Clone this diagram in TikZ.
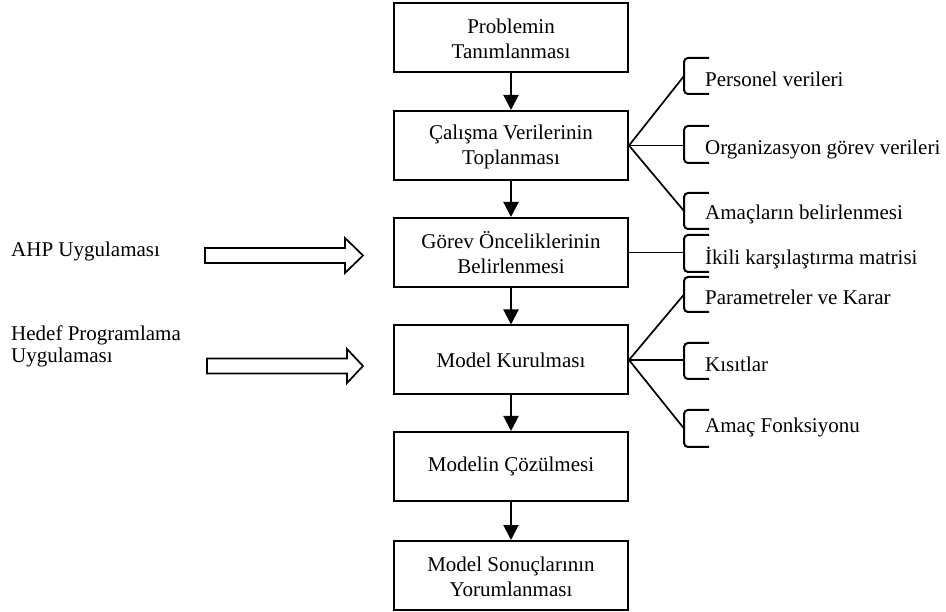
\documentclass[tikz,border=0pt]{standalone}
\usepackage{fontspec}
\setmainfont{Liberation Serif}
\usetikzlibrary{arrows.meta}

\tikzset{
	box/.style={rectangle, draw, line width=2pt, minimum width=234pt, minimum height=69pt, inner sep=0pt, align=center, font=\fontsize{21}{24.5}\selectfont},
	item/.style={anchor=base west, inner sep=0pt, font=\fontsize{21}{24}\selectfont},
	side/.style={anchor=base west, inner sep=0pt, align=left, font=\fontsize{21}{22}\selectfont},
	flow/.style={-{Triangle[length=15pt,width=15pt]}, line width=2pt},
	fan/.style={line width=1.7pt},
	brk/.style={line width=2pt, rounded corners=4pt},
	fatarrow/.style={line width=1.7pt, line join=miter},
}

\begin{document}
\begin{tikzpicture}[x=1pt,y=-1pt]

	\useasboundingbox	(0,0)	rectangle	(946,612);

	% main steps
	\node 	(e1)		at	(511,37.5) 	[box]{\strut Problemin\\Tanımlanması};
	\node 	(e2)		at	(511,145.5) 	[box]{\strut Çalışma Verilerinin\\Toplanması};
	\node 	(e3)		at	(511,252.5) 	[box]{\strut Görev Önceliklerinin\\Belirlenmesi};
	\node 	(e4)		at	(511,360) 	[box]{Model Kurulması};
	\node 	(e5)		at	(511,466.5) 	[box]{Modelin Çözülmesi};
	\node 	(e6)		at	(511,575.5) 	[box]{\strut Model Sonuçlarının\\Yorumlanması};

	\draw[flow]	(e1)	to	(e2);
	\draw[flow]	(e2)	to	(e3);
	\draw[flow]	(e3)	to	(e4);
	\draw[flow]	(e4)	to	(e5);
	\draw[flow]	(e5)	to	(e6);

	% brackets on the right
	\coordinate	(b1)	at	(684,76);
	\coordinate	(b2)	at	(684,145.5);
	\coordinate	(b3)	at	(684,211);
	\coordinate	(b4)	at	(684,252.5);
	\coordinate	(b5)	at	(684,294.5);
	\coordinate	(b6)	at	(684,360);
	\coordinate	(b7)	at	(684,428.5);

	\draw[brk]	(709,58)	--	(684,58)	--	(684,94)	--	(709,94);
	\draw[brk]	(709,126)	--	(684,126)	--	(684,163)	--	(709,163);
	\draw[brk]	(709,193)	--	(684,193)	--	(684,229)	--	(709,229);
	\draw[brk]	(709,235)	--	(684,235)	--	(684,272)	--	(709,272);
	\draw[brk]	(709,277)	--	(684,277)	--	(684,312)	--	(709,312);
	\draw[brk]	(709,343)	--	(684,343)	--	(684,379)	--	(709,379);
	\draw[brk]	(709,410)	--	(684,410)	--	(684,447)	--	(709,447);

	\node 	(p1)		at	(705,87) 	[item]{Personel verileri};
	\node 	(p2)		at	(705,155) 	[item]{Organizasyon görev verileri};
	\node 	(p3)		at	(705,220) 	[item]{Amaçların belirlenmesi};
	\node 	(p4)		at	(705,265) 	[item]{İkili karşılaştırma matrisi};
	\node 	(p5)		at	(705,305) 	[item]{Parametreler ve Karar};
	\node 	(p6)		at	(705,372) 	[item]{Kısıtlar};
	\node 	(p7)		at	(705,432) 	[item]{Amaç Fonksiyonu};

	\draw[fan]	(e2.east)	to	(b1);
	\draw[fan]	(e2.east)	to	(b2);
	\draw[fan]	(e2.east)	to	(b3);
	\draw[fan]	(e3.east)	to	(b4);
	\draw[fan]	(e4.east)	to	(b5);
	\draw[fan]	(e4.east)	to	(b6);
	\draw[fan]	(e4.east)	to	(b7);

	% applications on the left
	\node 	(ahp)		at	(11,257) 	[side]{AHP Uygulaması};
	\node 	(hp)		at	(11,363) 	[side]{Hedef Programlama\\Uygulaması};

	\draw[fatarrow]	(205,248)	--	(345,248)	--	(345,238)	--	(363,255.5)	--	(345,273)	--	(345,263)	--	(205,263)	--	cycle;
	\draw[fatarrow]	(207,358.5)	--	(347,358.5)	--	(347,349)	--	(363,366)	--	(347,383)	--	(347,373.5)	--	(207,373.5)	--	cycle;

\end{tikzpicture}
\end{document}
